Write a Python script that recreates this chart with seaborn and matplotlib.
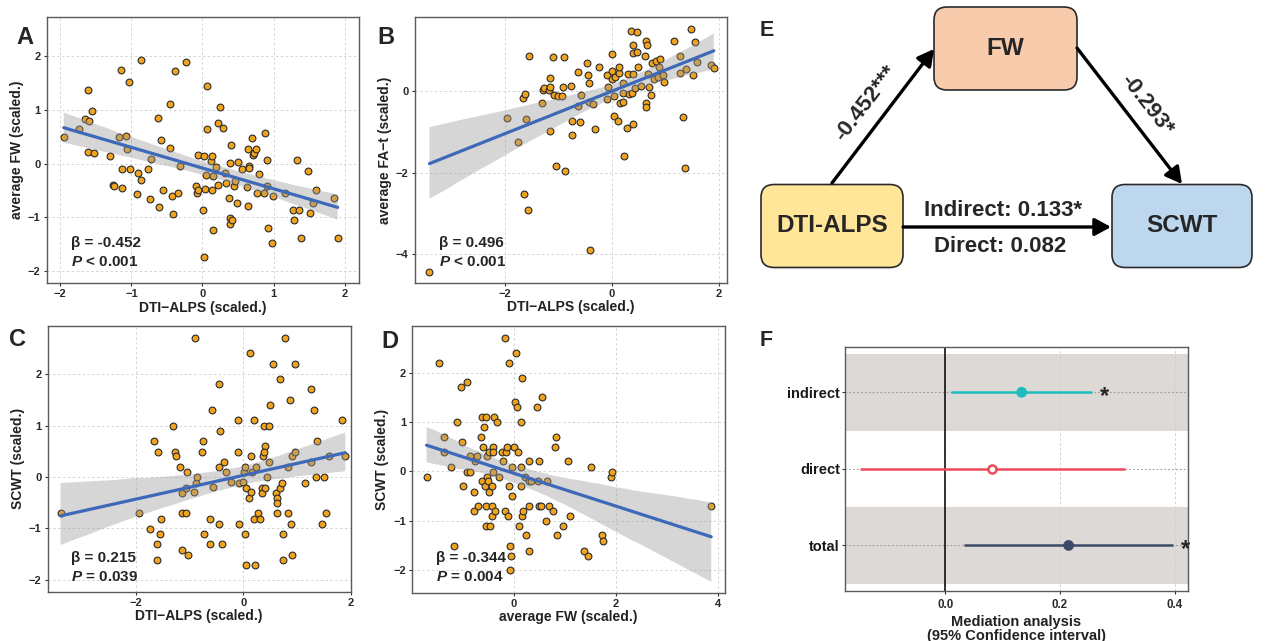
import numpy as np
import pandas as pd
import seaborn as sns
import matplotlib.pyplot as plt
from matplotlib.patches import FancyBboxPatch

# ---- panel A: DTI-ALPS vs average FW ----
a_x = [-1.95, -1.74, -1.65, -1.60, -1.61, -1.56, -1.61, -1.53, -1.30, -1.26, -1.25, -1.18,
       -1.14, -1.13, -1.13, -1.07, -1.06, -1.04, -1.02, -0.92, -0.90, -0.87, -0.87, -0.76,
       -0.74, -0.72, -0.62, -0.61, -0.58, -0.55, -0.45, -0.45, -0.43, -0.42, -0.39, -0.35,
       -0.32, -0.23, -0.09, -0.08, -0.07, -0.06, 0.01, 0.02, 0.02, 0.04, 0.06, 0.05, 0.06,
       0.12, 0.13, 0.14, 0.15, 0.15, 0.19, 0.22, 0.22, 0.24, 0.29, 0.31, 0.33, 0.37, 0.38,
       0.39, 0.40, 0.39, 0.41, 0.44, 0.45, 0.48, 0.50, 0.55, 0.62, 0.64, 0.64, 0.65, 0.65,
       0.70, 0.71, 0.73, 0.75, 0.76, 0.80, 0.86, 0.88, 0.90, 0.92, 0.98, 0.99, 1.16, 1.27,
       1.28, 1.33, 1.36, 1.39, 1.48, 1.51, 1.55, 1.60, 1.85, 1.90, 0.90]
a_y = [0.49, 0.64, 0.82, 0.79, 1.36, 0.97, 0.22, 0.19, 0.14, -0.40, -0.42, 0.50,
       1.74, -0.10, -0.45, 0.51, 0.28, 1.51, -0.10, -0.56, -0.18, -0.31, 1.92, -0.11,
       -0.66, 0.09, 0.84, -0.81, 0.44, -0.50, 1.10, 0.29, -0.61, -0.93, 1.72, -0.54,
       -0.05, 1.89, -0.41, -0.55, 0.16, -0.49, -0.87, 0.14, -1.74, -0.47, 1.44, -0.22, 0.64,
       0.04, -0.50, 0.14, -0.24, -1.24, -0.06, -0.39, 0.76, 1.05, 0.66, -0.18, -0.37, -0.64, -1.02,
       0.01, 0.34, -1.13, -1.04, -0.42, -0.33, -0.74, 0.02, -0.10, -0.43, -0.79, 0.27, -0.04, -0.09,
       0.47, 0.16, 0.20, 0.28, -0.54, -0.19, -0.55, 0.56, 0.06, -1.20, -1.48, -0.61, -0.54, -0.86,
       -1.04, 0.06, -0.87, -1.38, -0.13, -0.91, -0.73, -0.50, -0.64, -1.38, -0.42]

# ---- panel B: DTI-ALPS vs average FA-t ----
b_x = [-3.40, -1.95, -1.75, -1.65, -1.63, -1.62, -1.60, -1.57, -1.54, -1.30, -1.28, -1.27,
       -1.17, -1.15, -1.15, -1.15, -1.09, -1.07, -1.05, -1.01, -0.93, -0.92, -0.89, -0.88,
       -0.77, -0.75, -0.74, -0.63, -0.63, -0.59, -0.57, -0.46, -0.45, -0.43, -0.42, -0.40,
       -0.36, -0.32, -0.24, -0.10, -0.09, -0.07, 0.00, 0.00, 0.01, 0.03, 0.04, 0.06, 0.11,
       0.14, 0.14, 0.15, 0.20, 0.20, 0.21, 0.23, 0.28, 0.30, 0.31, 0.36, 0.38, 0.39, 0.39,
       0.40, 0.40, 0.43, 0.46, 0.47, 0.48, 0.55, 0.61, 0.63, 0.63, 0.64, 0.65, 0.68, 0.70,
       0.72, 0.75, 0.78, 0.83, 0.86, 0.88, 0.90, 0.96, 0.98, 1.15, 1.27, 1.27, 1.32, 1.36,
       1.39, 1.47, 1.51, 1.54, 1.59, 1.84, 1.90]
b_y = [-4.42, -0.66, -1.24, -0.18, -2.51, -0.08, -0.69, -2.90, 0.86, -0.29, 0.02, 0.08,
       0.02, 0.09, 0.32, -0.99, 0.84, -0.10, -1.84, -0.12, -0.13, 0.10, 0.84, -1.96,
       0.13, -0.73, -1.07, 0.46, -0.37, -0.77, -0.09, 0.69, 0.39, 0.19, -0.27, -3.89,
       -0.32, -0.92, 0.58, -0.20, 0.38, 0.09, 0.91, 0.49, 0.30, -0.61, -0.13, 0.35, -0.73,
       0.45, 0.58, -0.30, 0.20, -0.04, -0.26, -1.58, -0.91, 0.42, -0.08, 1.47, -0.06, 1.13, 0.92,
       0.42, -0.80, 0.06, 1.45, 0.94, 0.59, 0.11, 0.86, -0.30, -0.40, 1.21, 1.12, 0.42, 0.09,
       -0.10, 0.69, 0.30, 0.74, 0.34, 0.59, 0.78, 0.39, 0.22, 1.22, 0.44, 0.86, -0.64, -1.88,
       0.53, 1.51, 0.38, 1.20, 0.71, 0.64, 0.56]

# ---- panel C: DTI-ALPS vs SCWT ----
c_x = [-3.41, -1.94, -1.75, -1.66, -1.62, -1.62, -1.60, -1.56, -1.54, -1.31, -1.28, -1.26,
       -1.19, -1.15, -1.15, -1.15, -1.08, -1.05, -1.03, -1.07, -0.89, -0.87, -0.93, -0.91,
       -0.77, -0.75, -0.74, -0.63, -0.63, -0.59, -0.56, -0.46, -0.45, -0.46, -0.43, -0.40,
       -0.36, -0.32, -0.24, -0.11, -0.10, -0.09, -0.08, 0.00, 0.01, 0.02, 0.02, 0.04, 0.05,
       0.11, 0.12, 0.14, 0.15, 0.16, 0.20, 0.20, 0.21, 0.23, 0.28, 0.31, 0.35, 0.35, 0.37,
       0.38, 0.40, 0.39, 0.40, 0.43, 0.47, 0.47, 0.49, 0.55, 0.61, 0.62, 0.63, 0.63, 0.69,
       0.69, 0.72, 0.74, 0.74, 0.77, 0.84, 0.84, 0.86, 0.88, 0.90, 0.91, 0.96, 0.97, 1.14,
       1.26, 1.26, 1.31, 1.36, 1.37, 1.46, 1.50, 1.54, 1.59, 1.83, 1.90]
c_y = [-0.71, -0.71, -1.01, 0.70, -1.31, -1.61, 0.49, -1.11, -0.81, 1.00, 0.49, 0.40,
       0.19, -0.31, -0.71, -1.41, -0.71, 0.09, -1.51, -0.21, -0.12, -0.01, -0.30, 2.70,
       0.49, 0.70, -1.11, -1.31, -0.81, 1.30, -0.20, -0.91, 1.80, 0.19, 0.90, -1.31,
       0.29, 0.09, -0.10, 0.49, 1.10, -0.12, -0.91, -0.10, 0.09, -1.11, 0.20, -1.71, -0.21,
       -0.41, 2.40, 0.40, -0.30, 0.09, 1.10, -0.81, -1.71, 0.20, -0.71, -0.81, -0.21, -0.31, 0.40,
       1.00, 0.60, 0.49, -0.21, 0.00, 1.00, 0.29, 1.40, 2.20, -0.31, -0.41, -0.51, -0.71, -0.21,
       1.90, -0.11, -1.11, -1.61, 2.70, -0.71, 0.19, 1.50, -0.91, 0.40, -1.51, 2.20, 0.49, -0.11,
       1.70, 0.29, 1.30, 0.00, 0.70, -0.91, 0.00, -0.71, 0.40, 1.10, 0.40]

# ---- panel D: average FW vs SCWT ----
d_x = [-1.71, -1.46, -1.37, -1.37, -1.23, -1.18, -1.12, -1.03, -1.02, -1.00, -0.92, -0.92,
       -0.86, -0.85, -0.79, -0.79, -0.76, -0.73, -0.71, -0.65, -0.63, -0.62, -0.60, -0.59,
       -0.56, -0.54, -0.54, -0.54, -0.53, -0.52, -0.50, -0.49, -0.48, -0.46, -0.43, -0.42,
       -0.42, -0.41, -0.41, -0.41, -0.38, -0.36, -0.33, -0.29, -0.24, -0.22, -0.18, -0.18,
       -0.16, -0.13, -0.12, -0.09, -0.09, -0.08, -0.07, -0.05, -0.04, -0.03, 0.01, 0.02,
       0.05, 0.07, 0.08, 0.10, 0.14, 0.14, 0.15, 0.16, 0.17, 0.18, 0.21, 0.24, 0.29, 0.29,
       0.29, 0.30, 0.33, 0.45, 0.47, 0.49, 0.50, 0.53, 0.56, 0.64, 0.65, 0.68, 0.76, 0.80,
       0.83, 0.84, 0.97, 1.07, 1.10, 1.37, 1.45, 1.51, 1.73, 1.75, 1.90, 1.93, 3.87]
d_y = [-0.11, 2.20, 0.69, 0.39, 0.09, -1.51, 1.00, 1.70, 0.59, -0.30, 1.80, -0.01,
       -0.01, 0.30, -0.41, -0.80, 0.20, 0.30, -0.70, 0.70, -0.20, 1.09, 0.50, 0.90,
       -0.30, 1.09, -0.70, -1.11, -0.11, 0.30, -0.20, -0.41, 0.40, -1.11, -0.70, -0.91,
       -0.30, -0.01, 0.50, 0.40, 1.09, -0.80, 1.00, -0.11, 0.40, 0.20, -0.80, 2.70,
       0.40, 0.50, -0.91, 2.20, -0.30, -1.51, -2.01, -1.71, 0.09, -0.50, 0.50, 1.40,
       2.40, 1.30, 0.40, -1.11, 0.09, 1.00, -0.30, -0.91, 1.90, -0.80, -0.11, -1.30, -0.70, 0.20,
       -0.20, -1.61, -0.20, 1.30, -0.20, -0.70, 0.20, -0.70, 1.50, -1.01, -0.20, -0.70, -0.80, 0.50,
       0.70, -1.30, -1.11, 0.20, -0.91, -1.61, -1.71, 0.09, -1.30, -1.41, -0.11, -0.01, -0.70]

stats_text = {
    "A": ["β = -0.452", "$P$ < 0.001"],
    "B": ["β = 0.496", "$P$ < 0.001"],
    "C": ["β = 0.215", "$P$ = 0.039"],
    "D": ["β = -0.344", "$P$ = 0.004"],
}

# ---- mediation (E, F) ----
path_labels = ["-0.452***", "-0.293*", "Indirect: 0.133*", "Direct: 0.082"]
node_names = ["DTI-ALPS", "FW", "SCWT"]
med_terms = ["indirect", "direct", "total"]
med_est = [0.133, 0.082, 0.215]
med_lo = [0.009, -0.150, 0.033]
med_hi = [0.255, 0.313, 0.397]
med_sig = ["*", "", "*"]

sns.set_style("white")
plt.rcParams['font.family'] = ['Liberation Sans', 'DejaVu Sans']
plt.rcParams['font.weight'] = 'bold'
plt.rcParams['axes.labelweight'] = 'bold'
plt.rcParams['mathtext.fontset'] = 'custom'
plt.rcParams['mathtext.it'] = 'Liberation Sans:italic:bold'
plt.rcParams['mathtext.rm'] = 'Liberation Sans:bold'

W, H = 1270, 641
fig = plt.figure(figsize=(12.7, 6.41), dpi=100)

def px_axes(left, top, right, bottom):
    return fig.add_axes([left / W, 1 - bottom / H, (right - left) / W, (bottom - top) / H])

point_col = '#F0A31C'
line_col = '#3E68B8'
frame_col = '#5a5a5a'
tick_col = '#333333'


def scatter_panel(ax, x, y, xlab, ylab, xlim, ylim, xticks, yticks, lines, ty):
    df = pd.DataFrame({'x': x, 'y': y})
    sns.scatterplot(data=df, x='x', y='y', ax=ax, s=24, color=point_col,
                    edgecolor='#2b2b2b', linewidth=0.8, zorder=2)
    sns.regplot(data=df, x='x', y='y', ax=ax, scatter=False, color='#999999', seed=3,
                line_kws={'color': line_col, 'lw': 2.3, 'zorder': 4})
    band = ax.collections[-1]
    band.set_facecolor('#999999')
    band.set_edgecolor('none')
    band.set_alpha(0.4)
    band.set_zorder(3)
    ax.set_xlim(*xlim)
    ax.set_ylim(*ylim)
    ax.set_xticks(xticks)
    ax.set_yticks(yticks)
    ax.grid(True, color='#d4d4d4', ls=(0, (2.5, 2.5)), lw=0.7)
    ax.set_axisbelow(True)
    for s in ax.spines.values():
        s.set_color(frame_col)
        s.set_linewidth(1.0)
    ax.tick_params(axis='both', which='major', bottom=True, left=True, length=2.5, width=0.8,
                   color=tick_col, labelcolor='#2a2a2a', labelsize=8, pad=2)
    ax.set_xlabel(xlab, fontsize=10, fontweight='bold', color='#222222', labelpad=1)
    ax.set_ylabel(ylab, fontsize=10, fontweight='bold', color='#222222', labelpad=3)
    ax.text(0.077, ty[0], lines[0], transform=ax.transAxes, fontsize=11, fontweight='bold',
            va='baseline', zorder=6)
    ax.text(0.077, ty[1], lines[1], transform=ax.transAxes, fontsize=11, fontweight='bold',
            va='baseline', zorder=6)


ax_a = px_axes(46.7, 16.7, 359, 283)
scatter_panel(ax_a, a_x, a_y, 'DTI\u2212ALPS (scaled.)', 'average FW (scaled.)',
              (-2.19, 2.20), (-2.22, 2.73), [-2, -1, 0, 1, 2], [-2, -1, 0, 1, 2],
              stats_text["A"], (0.136, 0.065))

ax_b = px_axes(415, 17.3, 726.7, 282.7)
scatter_panel(ax_b, b_x, b_y, 'DTI\u2212ALPS (scaled.)', 'average FA\u2212t (scaled.)',
              (-3.67, 2.14), (-4.69, 1.80), [-2, 0, 2], [-4, -2, 0],
              stats_text["B"], (0.135, 0.064))

ax_c = px_axes(47.7, 325.7, 350.7, 591.7)
scatter_panel(ax_c, c_x, c_y, 'DTI\u2212ALPS (scaled.)', 'SCWT (scaled.)',
              (-3.65, 1.98), (-2.23, 2.94), [-2, 0, 2], [-2, -1, 0, 1, 2],
              stats_text["C"], (0.113, 0.041))

ax_d = px_axes(412.3, 325.7, 725, 592.7)
scatter_panel(ax_d, d_x, d_y, 'average FW (scaled.)', 'SCWT (scaled.)',
              (-1.99, 4.14), (-2.46, 2.95), [0, 2, 4], [-2, -1, 0, 1, 2],
              stats_text["D"], (0.114, 0.045))

# panel letters
for lab, (lx, ly), fs in [("A", (16, 26), 17), ("B", (377, 26.5), 17), ("C", (9.5, 328), 17),
                          ("D", (381, 330), 17), ("E", (760, 20), 15.5), ("F", (760, 330.5), 15.5)]:
    fig.text(lx / W, 1 - ly / H, lab, fontsize=fs, fontweight='bold', ha='left', va='top')

# ---- E: mediation path diagram ----
ax_e = px_axes(730, 0, 1270, 300)
ax_e.set_xlim(730, 1270)
ax_e.set_ylim(300, 0)
ax_e.axis('off')

boxes = {
    "FW": ((934, 7, 143, 83), '#F8CBAD'),
    "DTI-ALPS": ((761, 184.5, 142, 83), '#FFE699'),
    "SCWT": ((1112, 184.5, 140, 83), '#BDD7EE'),
}
for name in node_names:
    (bx, by, bw, bh), fc = boxes[name]
    ax_e.add_patch(FancyBboxPatch((bx, by), bw, bh, boxstyle="round,pad=0,rounding_size=13",
                                  fc=fc, ec='#2a2a2a', lw=1.2, zorder=2))
    ax_e.text(bx + bw / 2, by + bh / 2, name, fontsize=17.5, fontweight='bold',
              ha='center', va='center', zorder=3)

arrow_kw = dict(arrowstyle='-|>,head_length=0.7,head_width=0.38', lw=2.4, color='black',
                mutation_scale=14, shrinkA=0, shrinkB=0)
ax_e.annotate('', xy=(934, 49), xytext=(832, 183), arrowprops=arrow_kw)
ax_e.annotate('', xy=(1182, 184), xytext=(1077, 48), arrowprops=arrow_kw)
ax_e.annotate('', xy=(1111, 227), xytext=(903, 227), arrowprops=arrow_kw)

ax_e.text(866, 103, path_labels[0], fontsize=16, fontweight='bold', rotation=52.5,
          ha='center', va='center', rotation_mode='anchor')
ax_e.text(1147, 105, path_labels[1], fontsize=16, fontweight='bold', rotation=-52,
          ha='center', va='center', rotation_mode='anchor')
ax_e.text(1003, 210, path_labels[2], fontsize=16, fontweight='bold', ha='center', va='center')
ax_e.text(1000, 246.5, path_labels[3], fontsize=16, fontweight='bold', ha='center', va='center')

# ---- F: mediation estimates ----
ax_f = px_axes(844.7, 346.7, 1188.3, 591)
med_cols = ['#1FBCBD', '#EE4B5A', '#3C4A69']
ypos = np.arange(len(med_terms))
for i in ypos:
    if i % 2 == 0:
        ax_f.axhspan(i - 0.5, i + 0.5, color='#DCD9D6', zorder=0, lw=0)
    ax_f.axhline(i, color='#9a9a9a', ls=(0, (1.5, 2)), lw=0.8, zorder=0.6)
ax_f.axvline(0, color='#111111', lw=1.2, zorder=1.5)
ax_f.hlines(ypos, med_lo, med_hi, colors=med_cols, lw=1.8, zorder=3)
est_df = pd.DataFrame({'est': med_est, 'y': ypos, 'term': med_terms})
filled = est_df[[s != "" for s in med_sig]]
sns.scatterplot(data=filled, x='est', y='y', hue='term', palette=[med_cols[0], med_cols[2]],
                s=60, linewidth=0, legend=False, ax=ax_f, zorder=4)
hollow = est_df[[s == "" for s in med_sig]]
ax_f.scatter(hollow['est'], hollow['y'], s=34, facecolor='white', edgecolor=med_cols[1],
             linewidth=1.8, zorder=4)
for i in ypos:
    if med_sig[i]:
        ax_f.text(med_hi[i] + 0.014, i + 0.05, med_sig[i], fontsize=17, fontweight='bold',
                  ha='left', va='center', zorder=5)
ax_f.set_xlim(-0.176, 0.424)
ax_f.set_ylim(2.595, -0.595)
ax_f.set_xticks([0.0, 0.2, 0.4], ['0.0', '0.2', '0.4'])
ax_f.set_yticks(ypos, med_terms)
ax_f.grid(True, axis='x', color='#cfcfcf', ls=(0, (2.5, 2.5)), lw=0.7)
ax_f.set_axisbelow(True)
for s in ax_f.spines.values():
    s.set_color(frame_col)
    s.set_linewidth(1.0)
ax_f.tick_params(axis='x', bottom=True, length=2.5, width=0.8, color=tick_col,
                 labelcolor='#2a2a2a', labelsize=8.3, pad=3)
ax_f.tick_params(axis='y', left=True, length=2.5, width=0.8, color=tick_col,
                 labelcolor='#1a1a1a', labelsize=10.5, pad=1)
ax_f.set_xlabel('Mediation analysis\n(95% Confidence interval)', fontsize=10.5,
                fontweight='bold', color='#222222', labelpad=3, linespacing=1.0)
ax_f.set_ylabel('')

fig.savefig('out.png', dpi=100)
